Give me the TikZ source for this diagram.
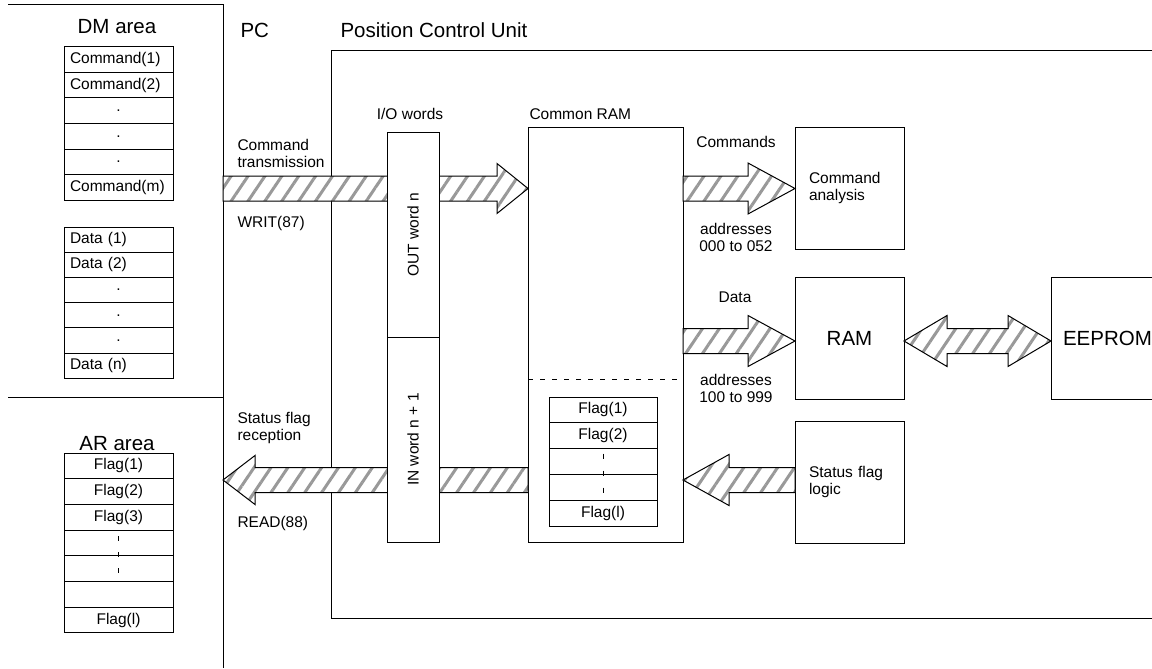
\documentclass[tikz,border=0pt]{standalone}
\usepackage{fontspec}
\setmainfont{Liberation Sans}
\usetikzlibrary{positioning, calc, patterns.meta}

% fat hatched arrow: start, tip, head length (signed), head half width
\newcommand{\hatcharrow}[4]{%
  \draw[hatch] ($(#1)+(0,-12.5)$) -- ($(#2)+({-(#3)},-12.5)$) -- ($(#2)+({-(#3)},{-(#4)})$)
    -- (#2) -- ($(#2)+({-(#3)},#4)$) -- ($(#2)+({-(#3)},12.5)$) -- ($(#1)+(0,12.5)$) -- cycle;}
\newcommand{\middot}{\makebox[97pt]{.}}

\begin{document}
\begin{tikzpicture}[x=1pt, y=-1pt, line width=1pt, font=\fontsize{15.5}{17}\selectfont,
    box/.style={draw, inner sep=0pt, outer sep=0pt, anchor=north west},
    cell/.style={draw, outer sep=0pt, inner ysep=0pt, inner xsep=6pt, minimum height=25.5pt, text width=97pt, align=left},
    flag/.style={cell, align=center},
    hatch/.style={draw, preaction={fill=white}, pattern={Lines[angle=56,distance=14pt,line width=3pt]}, pattern color=gray!80},
    title/.style={font=\fontsize{20.5}{24}\selectfont},
    lbl/.style={anchor=west, inner sep=0pt, align=left}]
  \useasboundingbox (0,0) rectangle (1152,669);

  % PC side
  \coordinate (pctop) at (223,5);
  \coordinate (pcbot) at (223,668);
  \draw (8,5) -- (pctop) -- (pcbot);
  \draw (8,397) -- (223,397);

  \node[title] (dm) at (117,27) {DM area};
  \node[cell, anchor=north west] (cmd1) at (64,47) {Command(1)};
  \foreach \t [count=\i from 2] in {Command(2), \middot, \middot, \middot, Command(m)} {
    \pgfmathtruncatemacro\j{\i-1}
    \node[cell, below=0pt of cmd\j] (cmd\i) {\t};
  }
  \node[cell, anchor=north west, minimum height=25.2pt] (dat1) at (64,227) {Data (1)};
  \foreach \t [count=\i from 2] in {Data (2), \middot, \middot, \middot, Data (n)} {
    \pgfmathtruncatemacro\j{\i-1}
    \node[cell, minimum height=25.2pt, below=0pt of dat\j] (dat\i) {\t};
  }

  \node[title] (ar) at (117,444) {AR area};
  \node[flag, anchor=north west, minimum height=25.7pt] (arf1) at (64,453) {Flag(1)};
  \foreach \t [count=\i from 2] in {Flag(2), Flag(3), {}, {}, {}, Flag(l)} {
    \pgfmathtruncatemacro\j{\i-1}
    \node[flag, minimum height=25.7pt, below=0pt of arf\j] (arf\i) {\t};
  }
  \draw[dash pattern=on 5pt off 11pt] ($(arf4.north)+(0,6)$) -- ($(arf5.south)+(0,-6)$);

  % Position Control Unit
  \node[title, lbl] (pc) at (240,30) {PC};
  \node[title, lbl] (pculbl) at (340,30) {Position Control Unit};
  \node[box, minimum width=840pt, minimum height=567pt] (pcu) at (331,51) {};

  \node[box, minimum width=155pt, minimum height=415pt] (cram) at (528,127) {};
  \node[lbl] (cramlbl) at (529,114) {Common RAM};
  \draw[dash pattern=on 5pt off 7pt] ($(cram.north west)+(0,252)$) -- ($(cram.north east)+(0,252)$);
  \node[flag, anchor=north west, text width=96pt, minimum height=25.8pt] (rf1) at (549,397) {Flag(1)};
  \foreach \t [count=\i from 2] in {Flag(2), {}, {}, Flag(l)} {
    \pgfmathtruncatemacro\j{\i-1}
    \node[flag, text width=96pt, minimum height=25.8pt, below=0pt of rf\j] (rf\i) {\t};
  }
  \draw[dash pattern=on 5pt off 12pt] ($(rf3.north)+(0,5)$) -- ($(rf4.south)+(0,-7)$);

  \node[box, minimum height=122pt, text width=81pt, inner xsep=14pt, align=left] (cana) at (795,127) {Command\\analysis};
  \node[box, title, minimum width=109pt, minimum height=122pt] (ram) at (795,277) {RAM};
  \node[box, title, minimum height=122pt, text width=138pt, inner xsep=12pt, align=left] (eeprom) at (1051,277) {EEPROM};
  \node[box, minimum height=122pt, text width=81pt, inner xsep=14pt, align=left] (logic) at (795,421) {Status flag\\logic};

  % labels
  \node[lbl] (ctx) at (237,153.5) {Command\\transmission};
  \node[lbl] (writ) at (237,223) {WRIT(87)};
  \node[lbl] (srx) at (237,427.5) {Status flag\\reception};
  \node[lbl] (read) at (237,523) {READ(88)};
  \node (iolbl) at (410,114) {I/O words};
  \node (cmds) at (736,142) {Commands};
  \node[align=center] (adr1) at (736,237) {addresses\\000 to 052};
  \node (datalbl) at (735,297) {Data};
  \node[align=center] (adr2) at (736,388) {addresses\\100 to 999};

  % hatched arrows
  \coordinate (w0) at (223,188.5);
  \coordinate (w1) at (w0 -| cram.west);
  \hatcharrow{w0}{w1}{31}{25}
  \coordinate (c0) at (w0 -| cram.east);
  \coordinate (c1) at (w0 -| cana.west);
  \hatcharrow{c0}{c1}{47}{25.5}
  \coordinate (d0) at ($(cram.north east)+(0,214)$);
  \coordinate (d1) at (d0 -| ram.west);
  \hatcharrow{d0}{d1}{47}{25.5}
  \coordinate (s0) at ($(logic.north west)+(0,59)$);
  \coordinate (s1) at (s0 -| cram.east);
  \hatcharrow{s0}{s1}{-46}{25.5}
  \coordinate (r0) at (s1 -| cram.west);
  \coordinate (r1) at (s1 -| pctop);
  \hatcharrow{r0}{r1}{-32}{24.5}
  \coordinate (e0) at (d0 -| ram.east);
  \coordinate (e1) at (d0 -| eeprom.west);
  \draw[hatch] (e0) -- ($(e0)+(43,-25.5)$) -- ($(e0)+(43,-12.5)$) -- ($(e1)+(-43,-12.5)$)
    -- ($(e1)+(-43,-25.5)$) -- (e1) -- ($(e1)+(-43,25.5)$) -- ($(e1)+(-43,12.5)$)
    -- ($(e0)+(43,12.5)$) -- ($(e0)+(43,25.5)$) -- cycle;

  % I/O words
  \node[box, fill=white, minimum width=52pt, minimum height=205pt] (outw) at (387,132) {};
  \node[box, fill=white, minimum width=52pt, minimum height=205pt] (inw) at (387,337) {};
  \node[rotate=90] (outtxt) at (outw) {OUT word n};
  \node[rotate=90] (intxt) at (inw) {IN word n + 1};
\end{tikzpicture}
\end{document}
